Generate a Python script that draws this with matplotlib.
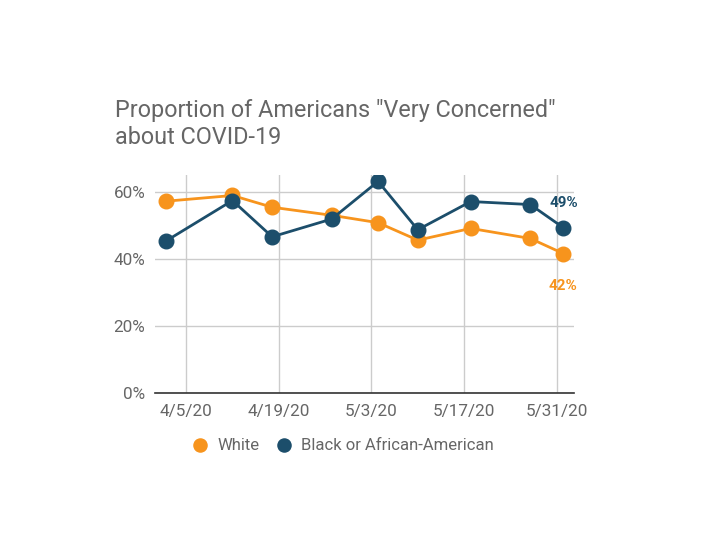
import numpy as np
import matplotlib
matplotlib.use('Agg')
from matplotlib import pyplot as plt
from datetime import datetime, timedelta

# survey dates and values (percent)
dates = ['2020-04-02', '2020-04-12', '2020-04-18', '2020-04-27', '2020-05-04',
         '2020-05-10', '2020-05-18', '2020-05-27', '2020-06-01']
white = [57.2, 58.9, 55.4, 53.0, 50.8, 45.6, 49.1, 46.1, 41.6]
black = [45.4, 57.4, 46.6, 51.9, 63.1, 48.7, 57.1, 56.2, 49.3]
tick_dates = ['2020-04-05', '2020-04-19', '2020-05-03', '2020-05-17', '2020-05-31']
tick_labels = ['4/5/20', '4/19/20', '5/3/20', '5/17/20', '5/31/20']
y_ticks = [0, 20, 40, 60]
title_lines = ['Proportion of Americans "Very Concerned"', 'about COVID-19']

ORANGE = '#F7941D'
BLUE = '#1C4E6B'
GREY = '#666666'

plt.rcParams['font.family'] = ['Roboto', 'DejaVu Sans']

x = [datetime.strptime(d, '%Y-%m-%d') for d in dates]
xt = [datetime.strptime(d, '%Y-%m-%d') for d in tick_dates]

fig = plt.figure(figsize=(7.03, 5.55), dpi=100)
ax = fig.add_axes([155 / 703, 1 - 393.3 / 555, (574 - 155) / 703, (393.3 - 175) / 555])

ax.plot(x, white, '-o', color=ORANGE, lw=2, ms=10.5, label='White', zorder=3)
ax.plot(x, black, '-o', color=BLUE, lw=2, ms=10.5, label='Black or African-American', zorder=4)

ax.set_xlim(xt[0] - timedelta(days=4.7), xt[0] + timedelta(days=58.6))
ax.set_ylim(0, 65)
ax.set_xticks(xt)
ax.set_xticklabels(tick_labels)
ax.set_yticks(y_ticks)
ax.set_yticklabels([f'{v}%' for v in y_ticks])
ax.tick_params(length=0, labelsize=12.3, colors=GREY, pad=7)
ax.tick_params(axis='x', pad=8)
ax.grid(color='#cccccc', lw=1)
for s in ['top', 'right', 'left']:
    ax.spines[s].set_visible(False)
ax.spines['bottom'].set_color('#333333')
ax.spines['bottom'].set_linewidth(1.2)

# end labels
ax.annotate(f'{round(black[-1])}%', (x[-1], black[-1]), xytext=(0, 18), textcoords='offset points',
            ha='center', va='center', color=BLUE, fontsize=11, fontweight='bold')
ax.annotate(f'{round(white[-1])}%', (x[-1], white[-1]), xytext=(0, -23), textcoords='offset points',
            ha='center', va='center', color=ORANGE, fontsize=11, fontweight='bold')

# title, two lines
fig.text(115 / 703, 1 - 117 / 555, title_lines[0], ha='left', va='baseline', fontsize=16.8, color=GREY)
fig.text(115 / 703, 1 - 144.5 / 555, title_lines[1], ha='left', va='baseline', fontsize=16.8, color=GREY)

fig.legend(loc='center left', bbox_to_anchor=(177 / 703, 1 - 446 / 555), ncol=2, frameon=False,
           fontsize=12, labelcolor=GREY, handlelength=1, handletextpad=0.5, columnspacing=1.0,
           markerscale=0.9)
for h in fig.legends[0].legend_handles:
    h.set_linestyle('none')

fig.savefig('out.png', dpi=100)
